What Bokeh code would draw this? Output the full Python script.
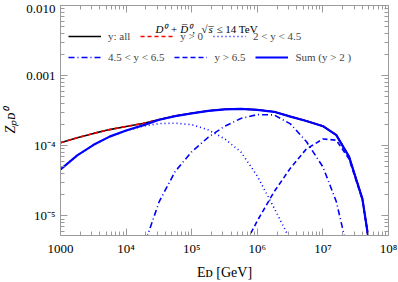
import numpy as np
from bokeh.plotting import figure
from bokeh.models import (Range1d, LogAxis, FixedTicker, CustomJSTickFormatter,
                          Legend, LegendItem, Label)
from bokeh.embed import file_html
from bokeh.resources import INLINE

# ---------------- data ----------------
E_all = [1.0e3, 1.8e3, 3.2e3, 5.6e3, 1.0e4, 1.8e4, 3.2e4, 5.6e4, 1.0e5, 1.8e5, 3.2e5,
         5.6e5, 1.0e6, 1.8e6, 3.2e6, 5.6e6, 1.0e7, 1.6e7, 2.5e7, 4.0e7, 5.0e7]
Z_all = [1.10e-4, 1.30e-4, 1.50e-4, 1.70e-4, 1.88e-4, 2.08e-4, 2.36e-4, 2.66e-4, 2.91e-4,
         3.16e-4, 3.31e-4, 3.36e-4, 3.26e-4, 3.06e-4, 2.61e-4, 2.26e-4, 1.91e-4, 1.43e-4,
         7.0e-5, 1.75e-5, 4.5e-6]

E_y0 = [1.0e3, 1.8e3, 3.2e3, 5.6e3, 1.0e4, 1.8e4, 3.2e4, 5.6e4, 1.0e5, 1.8e5, 3.2e5,
        5.6e5, 1.0e6, 1.8e6, 3.2e6, 5.6e6, 1.0e7, 1.6e7, 2.5e7, 4.0e7, 5.0e7]
Z_y0 = [1.10e-4, 1.30e-4, 1.50e-4, 1.70e-4, 1.88e-4, 2.08e-4, 2.36e-4, 2.66e-4, 2.91e-4,
        3.16e-4, 3.31e-4, 3.36e-4, 3.26e-4, 3.06e-4, 2.61e-4, 2.26e-4, 1.91e-4, 1.43e-4,
        7.0e-5, 1.75e-5, 4.5e-6]

E_y2_45 = [1.0e3, 1.8e3, 3.2e3, 5.6e3, 1.0e4, 1.8e4, 3.2e4, 5.6e4, 1.0e5, 1.8e5, 3.2e5,
           5.6e5, 1.0e6, 1.8e6, 3.2e6]
Z_y2_45 = [4.6e-5, 7.3e-5, 1.03e-4, 1.35e-4, 1.63e-4, 1.90e-4, 2.07e-4, 2.10e-4, 2.00e-4,
           1.68e-4, 1.25e-4, 8.2e-5, 3.7e-5, 1.3e-5, 4.5e-6]

E_y45_65 = [2.0e4, 3.2e4, 5.6e4, 1.0e5, 1.8e5, 3.2e5, 5.6e5, 1.0e6, 1.8e6, 3.2e6, 5.6e6,
            1.0e7, 1.6e7, 2.2e7]
Z_y45_65 = [4.5e-6, 1.6e-5, 4.3e-5, 8.2e-5, 1.33e-4, 1.90e-4, 2.45e-4, 2.78e-4, 2.75e-4,
            2.05e-4, 1.15e-4, 5.0e-5, 1.6e-5, 4.5e-6]

E_y65 = [7.0e5, 1.0e6, 1.8e6, 3.2e6, 5.6e6, 1.0e7, 1.6e7, 2.5e7, 4.0e7, 5.0e7]
Z_y65 = [4.5e-6, 8.5e-6, 2.2e-5, 4.8e-5, 9.0e-5, 1.25e-4, 1.20e-4, 6.5e-5, 1.7e-5, 4.5e-6]

E_sum = [1.0e3, 1.8e3, 3.2e3, 5.6e3, 1.0e4, 1.8e4, 3.2e4, 5.6e4, 1.0e5, 1.8e5, 3.2e5,
         5.6e5, 1.0e6, 1.8e6, 3.2e6, 5.6e6, 1.0e7, 1.6e7, 2.5e7, 4.0e7, 5.0e7]
Z_sum = [4.6e-5, 7.3e-5, 1.03e-4, 1.35e-4, 1.65e-4, 1.95e-4, 2.35e-4, 2.65e-4, 2.90e-4,
         3.15e-4, 3.30e-4, 3.35e-4, 3.25e-4, 3.05e-4, 2.60e-4, 2.25e-4, 1.90e-4, 1.42e-4,
         7.0e-5, 1.75e-5, 4.5e-6]

series_labels = ["y: all", "y > 0", "2 < y < 4.5", "4.5 < y < 6.5", "y > 6.5", "Sum (y > 2 )"]

x_ticks = [1e3, 1e4, 1e5, 1e6, 1e7, 1e8]
x_tick_labels = ["1000", "10\u2074", "10\u2075", "10\u2076", "10\u2077", "10\u2078"]
y_ticks = [1e-5, 1e-4, 1e-3, 1e-2]
y_tick_labels = ["10\u207b\u2075", "10\u207b\u2074", "0.001", "0.010"]

x_title = "E\u1d05 [GeV]"          # E_D [GeV]
y_title = "Z\u209a\u1d05\u2070"     # Z_pD^0

X_MIN, X_MAX = 1e3, 1e8
Y_MIN, Y_MAX = 5.25e-6, 1e-2

# ---------------- figure ----------------
FONT = "Liberation Serif"
BLUE = "#0000ff"

p = figure(width=398, height=282, x_axis_type="log", y_axis_type="log",
           x_range=Range1d(X_MIN, X_MAX), y_range=Range1d(Y_MIN, Y_MAX),
           output_backend="svg", toolbar_location=None,
           min_border_left=57, min_border_right=10, min_border_top=5, min_border_bottom=43)
p.xgrid.visible = False
p.ygrid.visible = False
p.outline_line_color = None
p.background_fill_color = "white"

bottom_ax = p.below[0]
left_ax = p.left[0]

x_minor = [m * 10.0 ** k for k in range(3, 8) for m in range(2, 10)]
y_minor = [m * 10.0 ** k for k in range(-6, -2) for m in range(2, 10) if m * 10.0 ** k > Y_MIN]

fmt_code = """
const i = tvals.findIndex(t => Math.abs(Math.log10(t) - Math.log10(tick)) < 1e-6);
return i >= 0 ? tlabels[i] : "";
"""
x_fmt = CustomJSTickFormatter(args=dict(tvals=x_ticks, tlabels=x_tick_labels), code=fmt_code)
y_fmt = CustomJSTickFormatter(args=dict(tvals=y_ticks, tlabels=y_tick_labels), code=fmt_code)
blank_fmt = CustomJSTickFormatter(code="return ''")


def style_axis(ax, ticks, minor, fmt, show):
    ax.ticker = FixedTicker(ticks=ticks, minor_ticks=minor)
    ax.formatter = fmt
    ax.axis_line_color = "#9a9a9a"
    ax.major_tick_line_color = "#9a9a9a"
    ax.minor_tick_line_color = "#9a9a9a"
    ax.major_tick_in = 7
    ax.major_tick_out = 0
    ax.minor_tick_in = 4
    ax.minor_tick_out = 0
    ax.major_label_text_font = FONT
    ax.major_label_text_font_size = "13px" if show else "0px"
    ax.major_label_text_color = "black"
    ax.major_label_standoff = 5 if show else 0


style_axis(bottom_ax, x_ticks, x_minor, x_fmt, True)
style_axis(left_ax, y_ticks, y_minor, y_fmt, True)

# axis titles on the bottom and left axes
bottom_ax.axis_label = x_title
bottom_ax.axis_label_text_font = FONT
bottom_ax.axis_label_text_font_size = "14px"
bottom_ax.axis_label_text_font_style = "normal"
bottom_ax.axis_label_text_color = "black"
bottom_ax.axis_label_standoff = 6

left_ax.axis_label = y_title
left_ax.axis_label_text_font = FONT
left_ax.axis_label_text_font_size = "14px"
left_ax.axis_label_text_font_style = "italic"
left_ax.axis_label_text_color = "black"
left_ax.axis_label_standoff = 5

# mirrored axes (ticks only) on top and right
top_ax = LogAxis()
style_axis(top_ax, x_ticks, x_minor, blank_fmt, False)
p.add_layout(top_ax, "above")
right_ax = LogAxis()
style_axis(right_ax, y_ticks, y_minor, blank_fmt, False)
p.add_layout(right_ax, "right")

# ---------------- curves ----------------
r_all = p.line(E_all, Z_all, line_color="black", line_width=1.6)
r_y0 = p.line(E_y0, Z_y0, line_color="#ff0000", line_width=1.6, line_dash="4 3")
r_y2 = p.line(E_y2_45, Z_y2_45, line_color=BLUE, line_width=1.6, line_dash="1 3")
r_y45 = p.line(E_y45_65, Z_y45_65, line_color=BLUE, line_width=1.6, line_dash="6 3 1 3")
r_y65 = p.line(E_y65, Z_y65, line_color=BLUE, line_width=1.6, line_dash="5 3")
r_sum = p.line(E_sum, Z_sum, line_color=BLUE, line_width=2.2)

# ---------------- legends ----------------
def make_legend(items, loc):
    return Legend(items=items, orientation="horizontal", location=loc,
                  label_text_font=FONT, label_text_font_size="11px",
                  glyph_width=33, glyph_height=14, label_height=14,
                  label_standoff=7, spacing=10, padding=0, margin=0,
                  border_line_color=None, background_fill_alpha=0)


leg1 = make_legend([LegendItem(label=series_labels[0], renderers=[r_all]),
                    LegendItem(label=series_labels[1], renderers=[r_y0]),
                    LegendItem(label=series_labels[2], renderers=[r_y2])], (8, 192))
leg2 = make_legend([LegendItem(label=series_labels[3], renderers=[r_y45]),
                    LegendItem(label=series_labels[4], renderers=[r_y65]),
                    LegendItem(label=series_labels[5], renderers=[r_sum])], (8, 171))
p.add_layout(leg1, "center")
p.add_layout(leg2, "center")


# ---------------- title text inside the frame ----------------
def txt_data(text, xo, yo, size, style="normal"):
    # anchored at the top-left corner of the frame
    p.add_layout(Label(x=X_MIN, y=Y_MAX, x_offset=xo, y_offset=yo, text=text,
                       text_font=FONT, text_font_size=size, text_font_style=style,
                       text_baseline="alphabetic", text_align="left", text_color="black"))


txt_data("D\u2070 + D\u0305\u2070,", 95, -23, "11px", "italic")
txt_data("\u221a", 141, -23, "11px")
txt_data("s\u0305", 148, -23, "11px", "italic")
txt_data("\u2264 14 TeV", 156, -23, "11px")

open("out.html", "w").write(file_html(p, INLINE))
